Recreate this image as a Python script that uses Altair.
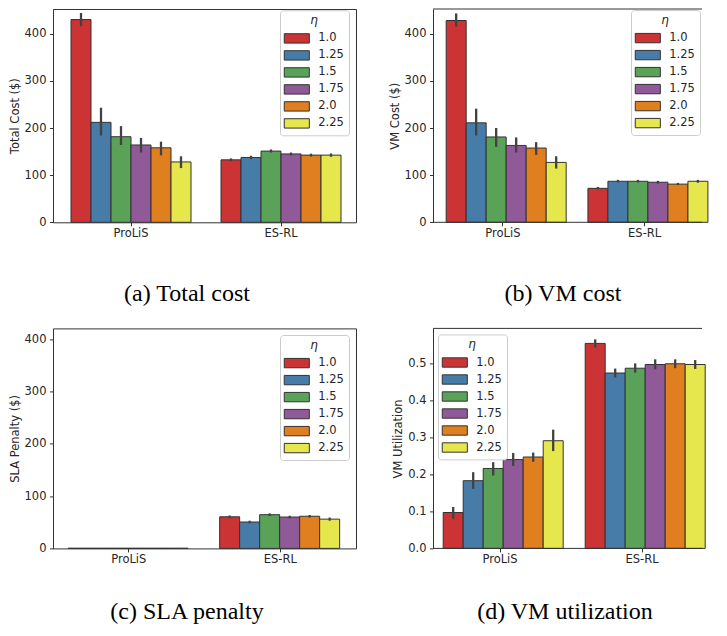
import altair as alt
import pandas as pd

methods = ["ProLiS", "ES-RL"]
etas = ["1.0", "1.25", "1.5", "1.75", "2.0", "2.25"]
colors = ["#CB3335", "#477CA8", "#59A257", "#905998", "#DF7F20", "#E6E64D"]

# (a) Total cost
total_prolis = [430, 212, 181.5, 164, 158, 128]
total_prolis_lo = [416, 184, 164, 148, 142, 115]
total_prolis_hi = [444, 243, 204, 179, 171, 140]
total_esrl = [132.5, 137.5, 151, 145, 142.5, 142.5]
total_esrl_lo = [129.5, 134, 148, 142, 139.5, 139]
total_esrl_hi = [135.5, 141, 154.5, 148, 145.5, 146]

# (b) VM cost
vm_prolis = [428, 211, 181, 163, 157.5, 127]
vm_prolis_lo = [415, 184, 160, 148, 143, 114]
vm_prolis_hi = [443, 241, 200, 180, 170, 140]
vm_esrl = [72, 87, 87, 85, 81, 87]
vm_esrl_lo = [70, 84.5, 84.5, 82, 79, 84]
vm_esrl_hi = [75, 90, 90, 88, 83.5, 90]

# (c) SLA penalty
sla_prolis = [0.3, 0.3, 0.3, 0.3, 0.3, 0.3]
sla_prolis_lo = [0, 0, 0, 0, 0, 0]
sla_prolis_hi = [0.8, 0.8, 0.8, 0.8, 0.8, 0.8]
sla_esrl = [60.5, 50.5, 64.5, 60, 61.5, 56]
sla_esrl_lo = [57.5, 48, 62, 57.5, 59, 53]
sla_esrl_hi = [63, 53, 67, 62.5, 64, 59]

# (d) VM utilization
util_prolis = [0.097, 0.183, 0.216, 0.240, 0.247, 0.291]
util_prolis_lo = [0.080, 0.161, 0.197, 0.223, 0.234, 0.263]
util_prolis_hi = [0.112, 0.206, 0.233, 0.258, 0.259, 0.321]
util_esrl = [0.554, 0.474, 0.487, 0.497, 0.499, 0.497]
util_esrl_lo = [0.543, 0.462, 0.475, 0.484, 0.487, 0.485]
util_esrl_hi = [0.565, 0.486, 0.500, 0.511, 0.511, 0.509]

cost_ticks = [0, 100, 200, 300, 400]
sla_ticks = [0, 50, 100, 150, 200, 250, 300, 350, 400]
util_ticks = [0.0, 0.1, 0.2, 0.3, 0.4, 0.5]

captions = ["(a) Total cost", "(b) VM cost", "(c) SLA penalty", "(d) VM utilization"]

LINE = "#333333"
SYMBOL = "M-1.42,-0.53H1.42V0.53H-1.42Z"


def make_panel(p, p_lo, p_hi, e, e_lo, e_hi, ytitle, ymax, yticks, yfmt,
               width, height, xrange, lx, ly, caption, cap_x, cap_y, cropped):
    df = pd.DataFrame({
        "method": [m for m in methods for _ in etas],
        "eta": etas * 2,
        "value": p + e,
        "lo": p_lo + e_lo,
        "hi": p_hi + e_hi,
    })
    x = alt.X("method:N", sort=methods, title=None,
              scale=alt.Scale(domain=methods, range=xrange,
                              paddingInner=0.2, paddingOuter=0.1),
              axis=alt.Axis(labelAngle=0, domain=False, ticks=True,
                            tickSize=3.5, labelPadding=2, grid=False))
    xo = alt.XOffset("eta:N", sort=etas,
                     scale=alt.Scale(domain=etas, paddingInner=0, paddingOuter=0))
    y = alt.Y("value:Q", title=ytitle,
              scale=alt.Scale(domain=[0, ymax], nice=False, zero=True),
              axis=alt.Axis(values=yticks, format=yfmt, grid=False, domain=True,
                            tickSize=3.5, labelPadding=3.5, titlePadding=4))
    legend = alt.Legend(
        title="η", orient="none", legendX=lx, legendY=ly, direction="vertical",
        fillColor="rgba(255,255,255,0.85)", strokeColor="#cccccc",
        cornerRadius=3, padding=5, rowPadding=0, titlePadding=1.6,
        titleAnchor="middle", symbolType=SYMBOL, symbolSize=312,
        symbolStrokeColor=LINE, symbolStrokeWidth=1, symbolOpacity=1,
        symbolOffset=2.3, labelOffset=12,
    )
    base = alt.Chart(df)
    bars = base.mark_bar(stroke=LINE, strokeWidth=1, opacity=1).encode(
        x=x, xOffset=xo, y=y,
        color=alt.Color("eta:N", sort=etas,
                        scale=alt.Scale(domain=etas, range=colors),
                        legend=legend),
    )
    errs = base.mark_rule(color="#424242", strokeWidth=2.3).encode(
        x=x, xOffset=xo, y=alt.Y("lo:Q"), y2="hi:Q",
    )
    cap_df = pd.DataFrame({"caption": [caption]})
    cap = alt.Chart(cap_df).mark_text(
        font="Liberation Serif", fontSize=24, color="#000000",
        align="center", baseline="alphabetic",
    ).encode(x=alt.value(cap_x), y=alt.value(height + cap_y), text="caption:N")
    layers = [bars, errs, cap]
    props = dict(width=width, height=height)
    if cropped:
        frame_df = pd.DataFrame({"edge": [0]})
        top = alt.Chart(frame_df).mark_rule(color=LINE, strokeWidth=1).encode(
            x=alt.value(0), x2=alt.value(width), y=alt.value(0))
        bottom = alt.Chart(frame_df).mark_rule(color=LINE, strokeWidth=1).encode(
            x=alt.value(0), x2=alt.value(width), y=alt.value(height))
        layers += [top, bottom]
        props["view"] = alt.ViewBackground(stroke="transparent")
    return alt.layer(*layers).properties(**props)


pa = make_panel(total_prolis, total_prolis_lo, total_prolis_hi,
                total_esrl, total_esrl_lo, total_esrl_hi,
                "Total Cost ($)", 452.4, cost_ticks, "d",
                303, 213.3, [3, 303], 227, 1.3, captions[0], 134, 78.5, False)
pb = make_panel(vm_prolis, vm_prolis_lo, vm_prolis_hi,
                vm_esrl, vm_esrl_lo, vm_esrl_hi,
                "VM Cost ($)", 452.4, cost_ticks, "d",
                269, 213.3, [-1, 282.5], 198, 1.0, captions[1], 130, 78.5, True)
pc = make_panel(sla_prolis, sla_prolis_lo, sla_prolis_hi,
                sla_esrl, sla_esrl_lo, sla_esrl_hi,
                "SLA Penalty ($)", 421, sla_ticks, "d",
                303, 220, [0, 303], 227, 6.6, captions[2], 134, 71, False)
pd_ = make_panel(util_prolis, util_prolis_lo, util_prolis_hi,
                 util_esrl, util_esrl_lo, util_esrl_hi,
                 "VM Utilization", 0.5946, util_ticks, ".1f",
                 269, 220, [-4, 280], 5, 6.0, captions[3], 132, 71, True)

chart = alt.concat(pa, pb, pc, pd_, columns=2, bounds="flush",
                   spacing={"row": 105.4, "column": 77}).resolve_scale(
    color="independent", x="independent", y="independent").resolve_legend(
    color="independent").properties(
    padding={"left": 0, "top": 0, "right": 0, "bottom": 0},
    background="white",
).configure_view(stroke=LINE, strokeWidth=1).configure_axis(
    labelFont="DejaVu Sans", labelFontSize=11.5, labelColor="#262626",
    titleFont="DejaVu Sans", titleFontSize=11.5, titleFontWeight="normal",
    titleColor="#262626", tickColor=LINE, domainColor=LINE,
    tickWidth=1, domainWidth=1,
).configure_legend(
    labelFont="DejaVu Sans", labelFontSize=11.5, labelColor="#262626",
    titleFont="DejaVu Sans", titleFontSize=12, titleFontStyle="italic",
    titleFontWeight="normal", titleColor="#262626",
)

chart.save("out.html", embed_options={"renderer": "svg", "actions": False})
